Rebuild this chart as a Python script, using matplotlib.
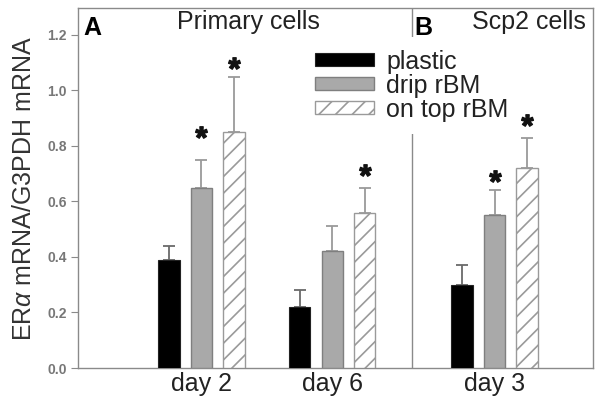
import matplotlib
matplotlib.use("Agg")
import matplotlib.pyplot as plt
import numpy as np
from matplotlib.textpath import TextPath
from matplotlib.font_manager import FontProperties
from matplotlib.path import Path

plt.rcParams["font.family"] = ["Liberation Sans", "DejaVu Sans"]
plt.rcParams["mathtext.fontset"] = "custom"
plt.rcParams["mathtext.rm"] = "Liberation Sans"
plt.rcParams["mathtext.it"] = "Liberation Sans:italic"
plt.rcParams["hatch.linewidth"] = 1.2

groups = ["day 2", "day 6", "day 3"]
series = ["plastic", "drip rBM", "on top rBM"]
plastic = [0.39, 0.22, 0.30]
plastic_err = [0.05, 0.06, 0.07]
drip = [0.65, 0.42, 0.55]
drip_err = [0.10, 0.09, 0.09]
ontop = [0.85, 0.56, 0.72]
ontop_err = [0.20, 0.09, 0.11]
# heights of significance asterisks (None = no asterisk)
drip_star = [0.85, None, 0.69]
ontop_star = [1.10, 0.715, 0.895]
yticks = [0.0, 0.2, 0.4, 0.6, 0.8, 1.0, 1.2]

group_centers = np.array([3.80, 7.83, 12.82])
divider_x = 10.28
step = 1.0
width = 0.65

fig = plt.figure(figsize=(6.01, 4.09), dpi=100)
ax = fig.add_axes([78/601, 41/409, 515/601, 360/409])

spine_c = "#8a8a8a"
x0 = group_centers - step
x1 = group_centers
x2 = group_centers + step

ax.bar(x0, plastic, width, color="black", edgecolor="#222222", linewidth=0.8, zorder=3,
       label=series[0])
ax.bar(x1, drip, width, color="#a9a9a9", edgecolor="#7f7f7f", linewidth=1.0, zorder=3,
       label=series[1])
ax.bar(x2, ontop, width, color="white", edgecolor="#9a9a9a", hatch="//", linewidth=1.0, zorder=3,
       label=series[2])

ax.errorbar(x0, plastic, yerr=[np.zeros(3), plastic_err], fmt="none", ecolor="#6a6a6a",
            elinewidth=1.3, capsize=4, capthick=1.3, zorder=2)
ax.errorbar(x1, drip, yerr=[np.zeros(3), drip_err], fmt="none", ecolor="#9a9a9a",
            elinewidth=1.3, capsize=4, capthick=1.3, zorder=2)
ax.errorbar(x2, ontop, yerr=[np.zeros(3), ontop_err], fmt="none", ecolor="#9a9a9a",
            elinewidth=1.3, capsize=4, capthick=1.3, zorder=2)

# centred asterisk marker from Liberation Sans Bold
tp = TextPath((0, 0), "*", prop=FontProperties(family="Liberation Sans", weight="bold"), size=10)
verts = tp.vertices.copy()
codes = tp.codes.copy()
bb = tp.get_extents()
verts[:, 0] -= (bb.x0 + bb.x1) / 2
verts[:, 1] -= (bb.y0 + bb.y1) / 2
start = 0
for i, c in enumerate(codes):
    if c == Path.MOVETO:
        start = i
    elif c == Path.CLOSEPOLY:
        verts[i] = verts[start]
star_path = Path(verts, codes)

for xs, ys in ((x1, drip_star), (x2, ontop_star)):
    for xi, yi in zip(xs, ys):
        if yi is not None:
            ax.plot([xi], [yi], marker=star_path, markersize=8.5, color="#111111",
                    linestyle="none", zorder=4)

ax.axvline(divider_x, color=spine_c, linewidth=1.0, zorder=1)

ax.set_xlim(0, 15.85)
ax.set_ylim(0, 1.297)
ax.set_yticks(yticks)
ax.set_yticklabels([f"{t:.1f}" for t in yticks], fontsize=10, color="#777777",
                   fontweight="bold")
ax.set_xticks(group_centers)
ax.set_xticklabels(groups, fontsize=18, color="#222222")
ax.tick_params(axis="x", length=0, pad=3)
ax.tick_params(axis="y", direction="out", length=5, color=spine_c, pad=3)
for sp in ax.spines.values():
    sp.set_color(spine_c)
    sp.set_linewidth(1.0)

ax.set_ylabel(r"ER$\it{\alpha}$ mRNA/G3PDH mRNA", fontsize=18, color="#333333", labelpad=8)

ax.text(0.01, 0.978, "A", transform=ax.transAxes, fontsize=18, fontweight="bold",
        ha="left", va="top", zorder=6)
ax.text(0.192, 0.994, "Primary cells", transform=ax.transAxes, fontsize=18,
        ha="left", va="top", color="#222222", zorder=6)
ax.text(0.654, 0.978, "B", transform=ax.transAxes, fontsize=18, fontweight="bold",
        ha="left", va="top", zorder=6)
ax.text(0.765, 0.994, "Scp2 cells", transform=ax.transAxes, fontsize=18,
        ha="left", va="top", color="#222222", zorder=6)

leg = ax.legend(loc="upper left", bbox_to_anchor=(0.435, 0.919), fontsize=18,
                frameon=True, framealpha=1.0, edgecolor="none", facecolor="white",
                handlelength=2.36, handleheight=0.4, handletextpad=0.5,
                labelspacing=0.0, borderpad=0.5, borderaxespad=0.0, fancybox=False)
for t in leg.get_texts():
    t.set_color("#222222")
leg.set_zorder(5)

fig.savefig("out.png", dpi=100)
